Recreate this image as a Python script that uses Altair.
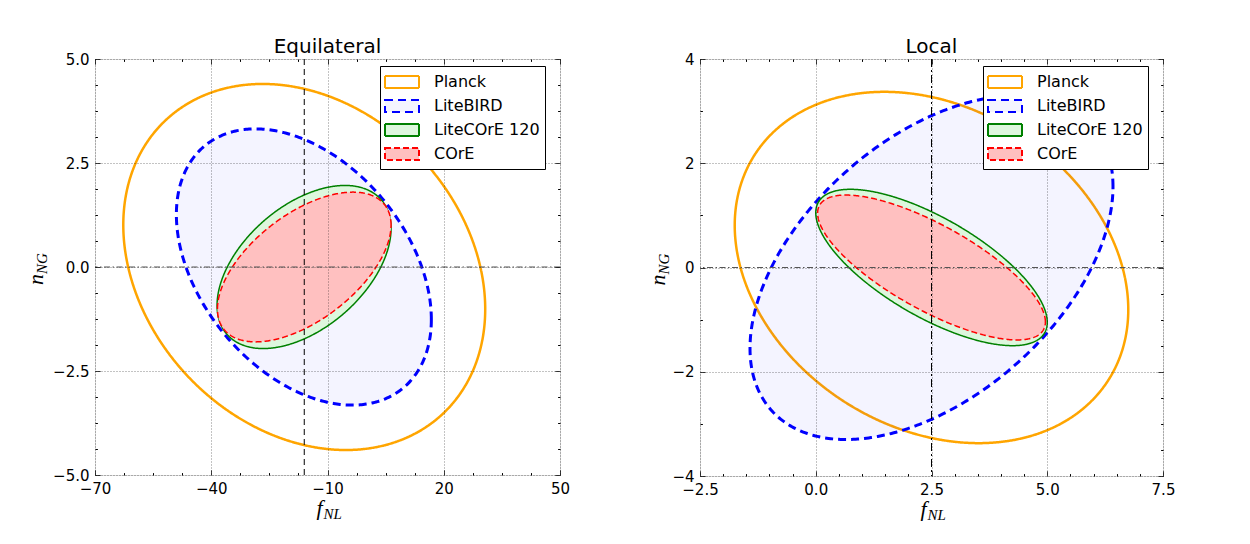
import altair as alt
import numpy as np
import pandas as pd

SERIES = ["Planck", "LiteBIRD", "LiteCOrE 120", "COrE"]

# Equilateral panel: ellipse centre, half-extent along f_NL and n_NG, correlation
EQ_CX = [-16.0, -16.1, -16.05, -16.0]
EQ_CY = [0.0, 0.0, 0.0, 0.0]
EQ_SX = [46.7, 32.9, 22.45, 22.4]
EQ_SY = [4.40, 3.32, 1.96, 1.80]
EQ_RHO = [-0.23, -0.38, 0.47, 0.56]

# Local panel
LO_CX = [2.5, 2.5, 2.5, 2.5]
LO_CY = [0.0, 0.0, 0.0, 0.0]
LO_SX = [4.25, 3.92, 2.50, 2.46]
LO_SY = [3.37, 3.30, 1.50, 1.39]
LO_RHO = [-0.24, 0.47, -0.70, -0.75]

EQ_VLINE = [-16.0]
LO_VLINE = [2.5]
HLINE = [0.0]

EQ_XTICKS = [-70, -40, -10, 20, 50]
EQ_XMINOR = [-62.5, -55, -47.5, -32.5, -25, -17.5, -2.5, 5, 12.5, 27.5, 35, 42.5]
EQ_YTICKS = [-5.0, -2.5, 0.0, 2.5, 5.0]
EQ_YMINOR = [-4.375, -3.75, -3.125, -1.875, -1.25, -0.625, 0.625, 1.25, 1.875, 3.125, 3.75, 4.375]
LO_XTICKS = [-2.5, 0.0, 2.5, 5.0, 7.5]
LO_XMINOR = [-2.0, -1.5, -1.0, -0.5, 0.5, 1.0, 1.5, 2.0, 3.0, 3.5, 4.0, 4.5, 5.5, 6.0, 6.5, 7.0]
LO_YTICKS = [-4, -2, 0, 2, 4]
LO_YMINOR = [-3.5, -3.0, -2.5, -1.5, -1.0, -0.5, 0.5, 1.0, 1.5, 2.5, 3.0, 3.5]

STROKES = ["#FFA500", "#0000FF", "#008000", "#FF0000"]
FILLS = ["rgba(255,255,255,0)", "rgba(0,0,255,0.045)", "#DDF7DD", "#FFC0C0"]
DASHES = [[1, 0], [8, 5], [1, 0], [6, 3]]
WIDTHS = [2.5, 3.0, 1.5, 1.5]

W1, H1 = 465, 416
W2, H2 = 463, 417

LEG_PATH = "M-1.7,-0.6H1.7V0.6H-1.7Z"


def ellipse_fill(cx, cy, sx, sy, rho):
    t = np.linspace(0, np.pi, 241)
    a = rho * np.cos(t)
    b = np.sqrt(1 - rho ** 2) * np.sin(t)
    return pd.DataFrame({
        "x": cx + sx * np.cos(t),
        "y": cy + sy * (a + b),
        "y2": cy + sy * (a - b),
    })


def ellipse_line(cx, cy, sx, sy, rho):
    t = np.linspace(0, 2 * np.pi, 481)
    return pd.DataFrame({
        "i": np.arange(len(t)),
        "x": cx + sx * np.cos(t),
        "y": cy + sy * (rho * np.cos(t) + np.sqrt(1 - rho ** 2) * np.sin(t)),
    })


def axis(major, minor, fmt, orient, labels=True, grid=True):
    allv = sorted(major + minor)
    majs = "[" + ",".join(repr(float(v)) for v in major) + "]"
    is_minor = "indexof(" + majs + ", datum.value) < 0"
    kw = dict(
        values=allv, orient=orient, domain=False, tickColor="#000000", tickSize=5,
        tickWidth=1, offset=-5, zindex=1, title=None,
        tickDash=alt.condition(is_minor, alt.value([0, 2.6, 2.4]), alt.value([1, 0])),
    )
    if labels:
        kw.update(
            format=fmt, labelPadding=6, labelFont="DejaVu Sans", labelFontSize=15,
            labelColor="#000000", labelFlush=False, labelOverlap=False,
            labelExpr="indexof(" + majs + ", datum.value) < 0 ? '' : datum.label",
        )
    else:
        kw.update(labels=False)
    if grid:
        kw.update(
            grid=True, gridDash=[1, 2], gridColor="#000000", gridWidth=0.8,
            gridOpacity=alt.condition(is_minor, alt.value(0), alt.value(0.6)),
        )
    else:
        kw.update(grid=False)
    return alt.Axis(**kw)


def panel(title, cx, cy, sx, sy, rho, xdom, ydom, xt, xm, yt, ym, xfmt, yfmt,
          vline, vdash, W, H, ylab_dx):
    xscale = alt.Scale(domain=xdom, nice=False, zero=False)
    yscale = alt.Scale(domain=ydom, nice=False, zero=False)
    xaxis = axis(xt, xm, xfmt, "bottom")
    yaxis = axis(yt, ym, yfmt, "left")
    leg = alt.Legend(
        orient="none", legendX=W - 180, legendY=7, symbolType=LEG_PATH, symbolSize=400,
        symbolStrokeWidth=2, symbolOffset=6, labelOffset=21,
        labelFont="DejaVu Sans", labelFontSize=16, labelColor="#000000",
        labelExpr="datum.label + ' '",
        fillColor="#FFFFFF", strokeColor="#000000", padding=5, rowPadding=3,
        cornerRadius=0, zindex=2, title=None,
    )
    fill_enc = alt.Fill("series:N", scale=alt.Scale(domain=SERIES, range=FILLS), legend=leg)
    stroke_enc = alt.Stroke("series:N", scale=alt.Scale(domain=SERIES, range=STROKES), legend=leg)
    dash_enc = alt.StrokeDash("series:N", scale=alt.Scale(domain=SERIES, range=DASHES), legend=leg)
    layers = []
    for i, name in enumerate(SERIES):
        dff = ellipse_fill(cx[i], cy[i], sx[i], sy[i], rho[i])
        dff["series"] = name
        layers.append(
            alt.Chart(dff).mark_area(clip=True).encode(
                x=alt.X("x:Q", scale=xscale, axis=xaxis),
                y=alt.Y("y:Q", scale=yscale, axis=yaxis),
                y2="y2:Q",
                fill=fill_enc,
            )
        )
        dfl = ellipse_line(cx[i], cy[i], sx[i], sy[i], rho[i])
        dfl["series"] = name
        layers.append(
            alt.Chart(dfl).mark_line(strokeWidth=WIDTHS[i], clip=True).encode(
                x=alt.X("x:Q", scale=xscale, axis=xaxis),
                y=alt.Y("y:Q", scale=yscale, axis=yaxis),
                order="i:Q",
                stroke=stroke_enc,
                strokeDash=dash_enc,
            )
        )
    t_txt = alt.Chart(pd.DataFrame({"t": [title]})).mark_text(
        font="DejaVu Sans", fontSize=20, align="center", baseline="alphabetic",
        color="#000000"
    ).encode(x=alt.value(W / 2), y=alt.value(-6), text="t:N")
    f_txt = alt.Chart(pd.DataFrame({"t": ["f"]})).mark_text(
        font="Liberation Serif", fontStyle="italic", fontSize=22, align="right",
        baseline="alphabetic", color="#000000"
    ).encode(x=alt.value(W / 2 - 5), y=alt.value(H + 40), text="t:N")
    nl_txt = alt.Chart(pd.DataFrame({"t": ["NL"]})).mark_text(
        font="Liberation Serif", fontStyle="italic", fontSize=15, align="left",
        baseline="alphabetic", color="#000000"
    ).encode(x=alt.value(W / 2 - 4), y=alt.value(H + 44), text="t:N")
    n_txt = alt.Chart(pd.DataFrame({"t": ["n"]})).mark_text(
        font="Liberation Serif", fontStyle="italic", fontSize=22, align="left",
        baseline="alphabetic", angle=270, color="#000000"
    ).encode(x=alt.value(ylab_dx), y=alt.value(H / 2 + 18), text="t:N")
    ng_txt = alt.Chart(pd.DataFrame({"t": ["NG"]})).mark_text(
        font="Liberation Serif", fontStyle="italic", fontSize=15, align="left",
        baseline="alphabetic", angle=270, color="#000000"
    ).encode(x=alt.value(ylab_dx + 4), y=alt.value(H / 2 + 7), text="t:N")
    main = alt.layer(*layers, t_txt, f_txt, nl_txt, n_txt, ng_txt)

    # reference lines; they also carry the tick-only top and right axes
    xscale2 = alt.Scale(domain=xdom, nice=False, zero=False)
    yscale2 = alt.Scale(domain=ydom, nice=False, zero=False)
    hl = alt.Chart(pd.DataFrame({"y": HLINE})).mark_rule(
        color="#555555", strokeWidth=1.2, strokeDash=[6, 2.5, 1.5, 2.5]
    ).encode(y=alt.Y("y:Q", scale=yscale2, axis=axis(yt, ym, yfmt, "right", labels=False, grid=False)))
    vl = alt.Chart(pd.DataFrame({"x": vline})).mark_rule(
        color="#000000", strokeWidth=1.0, strokeDash=vdash
    ).encode(x=alt.X("x:Q", scale=xscale2, axis=axis(xt, xm, xfmt, "top", labels=False, grid=False)))
    refs = alt.layer(hl, vl)

    ch = alt.layer(main, refs).resolve_scale(x="independent", y="independent").properties(
        width=W, height=H,
    )
    return ch


left = panel("Equilateral", EQ_CX, EQ_CY, EQ_SX, EQ_SY, EQ_RHO, [-70, 50], [-5, 5],
             EQ_XTICKS, EQ_XMINOR, EQ_YTICKS, EQ_YMINOR, "d", ".1f", EQ_VLINE, [6, 4],
             W1, H1, -52)
right = panel("Local", LO_CX, LO_CY, LO_SX, LO_SY, LO_RHO, [-2.5, 7.5], [-4, 4],
              LO_XTICKS, LO_XMINOR, LO_YTICKS, LO_YMINOR, ".1f", "d", LO_VLINE, [8, 3, 2, 3],
              W2, H2, -35)

chart = alt.hconcat(left, right, spacing=75).resolve_scale(
    fill="independent", stroke="independent", strokeDash="independent"
).resolve_legend(
    fill="independent", stroke="independent", strokeDash="independent"
).properties(
    padding={"left": 16, "top": 28, "right": 5, "bottom": 5}
).configure_view(
    stroke="#222222", strokeWidth=1.2
).configure(background="white")

chart.save("out.html", embed_options={"renderer": "svg", "actions": False})
